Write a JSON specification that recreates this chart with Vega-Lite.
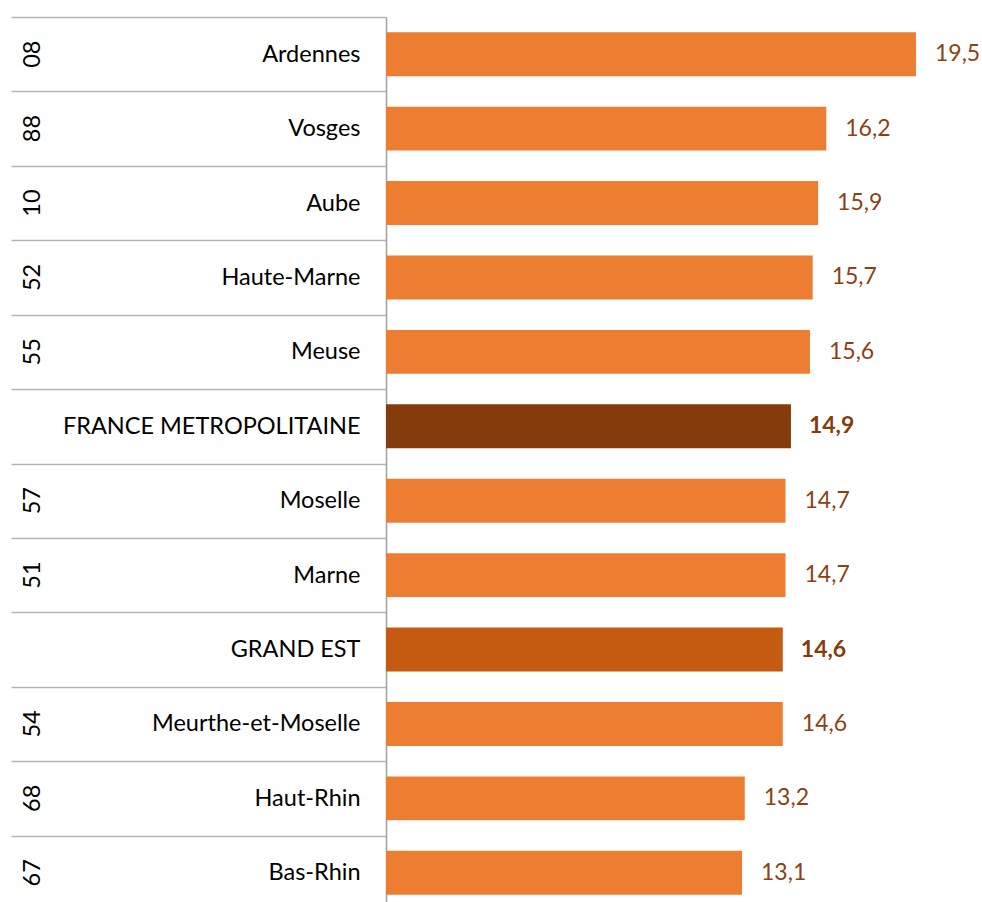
{
  "$schema": "https://vega.github.io/schema/vega-lite/v6.json",
  "autosize": {"type": "none"},
  "padding": {"left": 386, "top": 17, "right": 0, "bottom": 0},
  "width": 596,
  "height": 885,
  "background": "white",
  "config": {
    "view": {"stroke": null},
    "font": "Lato",
    "locale": {"number": {"decimal": ",", "thousands": " ", "grouping": [3], "currency": ["", " €"]}}
  },
  "data": {
    "values": [
      {"key": "08|Ardennes", "code": "08", "name": "Ardennes", "value": 19.5, "type": "dep"},
      {"key": "88|Vosges", "code": "88", "name": "Vosges", "value": 16.2, "type": "dep"},
      {"key": "10|Aube", "code": "10", "name": "Aube", "value": 15.9, "type": "dep"},
      {"key": "52|Haute-Marne", "code": "52", "name": "Haute-Marne", "value": 15.7, "type": "dep"},
      {"key": "55|Meuse", "code": "55", "name": "Meuse", "value": 15.6, "type": "dep"},
      {"key": "|FRANCE METROPOLITAINE", "code": "", "name": "FRANCE METROPOLITAINE", "value": 14.9, "type": "france"},
      {"key": "57|Moselle", "code": "57", "name": "Moselle", "value": 14.7, "type": "dep"},
      {"key": "51|Marne", "code": "51", "name": "Marne", "value": 14.7, "type": "dep"},
      {"key": "|GRAND EST", "code": "", "name": "GRAND EST", "value": 14.6, "type": "region"},
      {"key": "54|Meurthe-et-Moselle", "code": "54", "name": "Meurthe-et-Moselle", "value": 14.6, "type": "dep"},
      {"key": "68|Haut-Rhin", "code": "68", "name": "Haut-Rhin", "value": 13.2, "type": "dep"},
      {"key": "67|Bas-Rhin", "code": "67", "name": "Bas-Rhin", "value": 13.1, "type": "dep"}
    ]
  },
  "layer": [
    {
      "mark": {"type": "bar", "height": {"band": 0.59}},
      "encoding": {
        "y": {
          "field": "key", "type": "nominal", "sort": null,
          "scale": {"range": [0, 893], "paddingInner": 0, "paddingOuter": 0},
          "axis": {
            "title": null, "orient": "left",
            "labelExpr": "split(datum.value, '|')[1]",
            "labelFont": "Lato", "labelFontSize": 23.5, "labelColor": "#000000",
            "labelAlign": "right", "labelBaseline": "middle",
            "labelPadding": -349, "labelLimit": 400, "labelOverlap": false, "labelBound": false,
            "ticks": true, "tickBand": "extent", "tickSize": 375, "tickColor": "#b4b4b4", "tickWidth": 1.5,
            "domain": true, "domainColor": "#a0a0a0", "domainWidth": 1.5,
            "grid": false
          }
        },
        "x": {"field": "value", "type": "quantitative", "scale": {"domain": [0, 21.93], "nice": false, "zero": true}, "axis": null},
        "color": {
          "field": "type", "type": "nominal",
          "scale": {"domain": ["dep", "france", "region"], "range": ["#ED7D31", "#843C0C", "#C55A11"]},
          "legend": null
        }
      }
    },
    {
      "mark": {"type": "text", "align": "left", "baseline": "middle", "dx": 19, "font": "Lato", "fontSize": 23, "color": "#8B4211"},
      "encoding": {
        "y": {
          "field": "key", "type": "nominal", "sort": null,
          "axis": {
            "title": null, "orient": "left",
            "labelExpr": "split(datum.value, '|')[0]",
            "labelFont": "Lato", "labelFontSize": 23.5, "labelColor": "#000000",
            "labelAngle": 270, "labelAlign": "center", "labelBaseline": "middle",
            "labelPadding": 354, "labelOverlap": false, "labelBound": false,
            "ticks": false, "domain": false, "grid": false
          }
        },
        "x": {"field": "value", "type": "quantitative"},
        "text": {"field": "value", "type": "quantitative", "format": ".1f", "condition": {"test": "datum.type !== 'dep'", "value": ""}}
      }
    },
    {
      "mark": {"type": "text", "align": "left", "baseline": "middle", "dx": 18, "font": "Lato", "fontSize": 23, "fontWeight": "bold", "color": "#843C0C"},
      "encoding": {
        "y": {"field": "key", "type": "nominal", "sort": null, "axis": null},
        "x": {"field": "value", "type": "quantitative"},
        "text": {"field": "value", "type": "quantitative", "format": ".1f", "condition": {"test": "datum.type === 'dep'", "value": ""}}
      }
    }
  ],
  "resolve": {"axis": {"y": "independent"}}
}
